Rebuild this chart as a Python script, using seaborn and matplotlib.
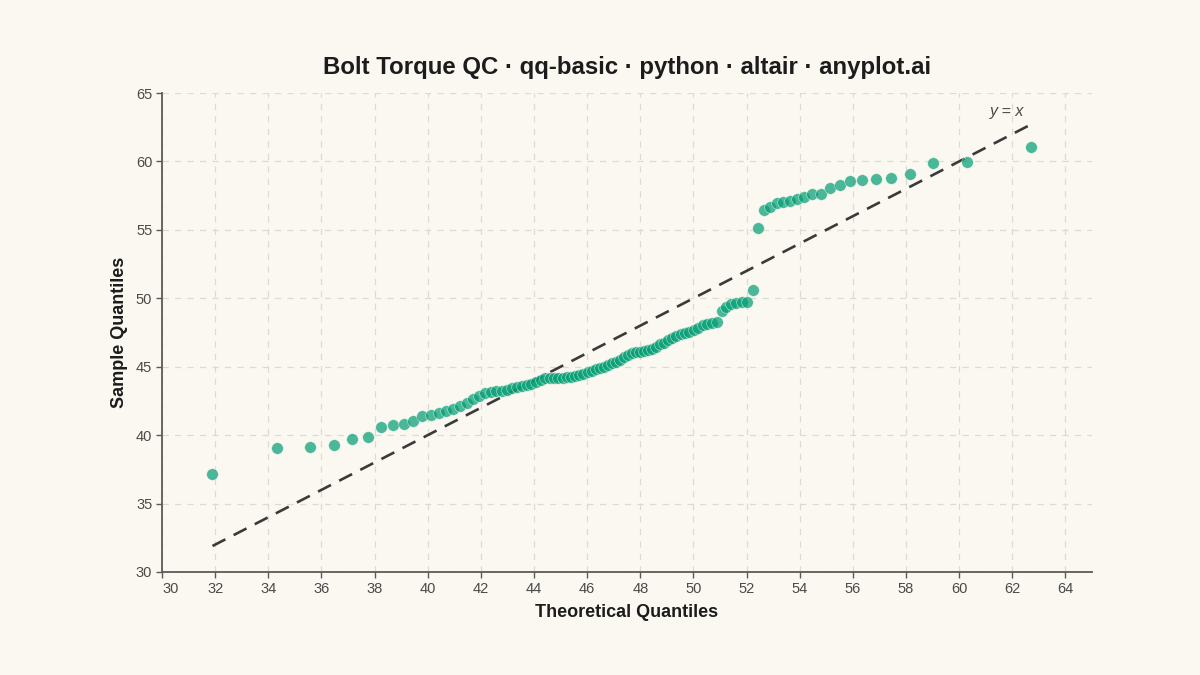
import matplotlib
matplotlib.use("Agg")
import matplotlib.pyplot as plt
import pandas as pd
import seaborn as sns

# Q-Q data: theoretical vs sample quantiles (n = 100)
theoretical = [
    31.90, 34.32, 35.58, 36.46, 37.16, 37.74, 38.25, 38.69, 39.09, 39.46,
    39.80, 40.12, 40.42, 40.70, 40.97, 41.23, 41.47, 41.71, 41.94, 42.16,
    42.37, 42.58, 42.78, 42.98, 43.17, 43.36, 43.54, 43.72, 43.90, 44.08,
    44.25, 44.42, 44.59, 44.75, 44.91, 45.08, 45.24, 45.39, 45.55, 45.71,
    45.86, 46.02, 46.17, 46.32, 46.47, 46.62, 46.78, 46.93, 47.08, 47.23,
    47.37, 47.52, 47.67, 47.82, 47.98, 48.13, 48.28, 48.43, 48.58, 48.74,
    48.89, 49.05, 49.21, 49.36, 49.52, 49.69, 49.85, 50.01, 50.18, 50.35,
    50.52, 50.70, 50.88, 51.06, 51.24, 51.43, 51.62, 51.82, 52.02, 52.23,
    52.44, 52.66, 52.89, 53.13, 53.37, 53.63, 53.90, 54.18, 54.48, 54.80,
    55.14, 55.51, 55.91, 56.35, 56.86, 57.44, 58.14, 59.02, 60.28, 62.70,
]
sample = [
    37.16, 39.06, 39.13, 39.28, 39.72, 39.86, 40.57, 40.76, 40.81, 41.03,
    41.40, 41.50, 41.60, 41.78, 41.91, 42.13, 42.36, 42.65, 42.86, 43.08,
    43.16, 43.22, 43.25, 43.31, 43.42, 43.54, 43.61, 43.66, 43.74, 43.88,
    44.05, 44.15, 44.15, 44.16, 44.17, 44.20, 44.22, 44.26, 44.31, 44.38,
    44.46, 44.60, 44.69, 44.80, 44.90, 44.97, 45.10, 45.24, 45.37, 45.52,
    45.68, 45.85, 45.98, 46.05, 46.08, 46.12, 46.20, 46.28, 46.45, 46.64,
    46.76, 46.95, 47.12, 47.26, 47.40, 47.48, 47.57, 47.66, 47.86, 48.03,
    48.09, 48.17, 48.24, 49.10, 49.40, 49.58, 49.65, 49.71, 49.75, 50.60,
    55.14, 56.43, 56.65, 56.99, 57.04, 57.11, 57.28, 57.40, 57.60, 57.60,
    58.06, 58.26, 58.60, 58.67, 58.72, 58.79, 59.10, 59.91, 59.98, 61.03,
]
x_ticks = list(range(30, 65, 2))
y_ticks = list(range(30, 66, 5))

title = "Bolt Torque QC · qq-basic · python · altair · anyplot.ai"
bg = "#FAF8F1"
point_color = "#009E73"
ink = "#1C1C1C"
muted = "#4A4A4A"

sns.set_theme(style="white")
plt.rcParams["font.family"] = ["Liberation Sans", "DejaVu Sans"]

df = pd.DataFrame({"theoretical": theoretical, "sample": sample})

fig = plt.figure(figsize=(12, 6.75), dpi=100, facecolor=bg)
ax = fig.add_axes([0.135, 0.1526, 0.775, 0.7096])
ax.set_facecolor(bg)

# reference line y = x across the theoretical range
lo, hi = min(theoretical), max(theoretical)
ax.plot([lo, hi], [lo, hi], color="#3A3A3A", lw=1.9, ls=(0, (5.5, 3.5)), zorder=2)
ax.annotate("y = x", xy=(hi, hi), xytext=(-17, 4), textcoords="offset points",
            ha="center", va="bottom", fontsize=11.5, style="italic", color=muted)

sns.scatterplot(data=df, x="theoretical", y="sample", ax=ax, s=70,
                color=point_color, alpha=0.7, edgecolor=bg, linewidth=0.4, zorder=3)

ax.set_xlim(30, 65)
ax.set_ylim(30, 65)
ax.set_xticks(x_ticks)
ax.set_yticks(y_ticks)
ax.grid(True, color="#DEDAD2", lw=0.9, ls=(0, (5, 5)))
ax.set_axisbelow(True)

for side in ["top", "right"]:
    ax.spines[side].set_visible(False)
for side in ["left", "bottom"]:
    ax.spines[side].set_color("#5A5A5A")
    ax.spines[side].set_linewidth(1.3)

ax.tick_params(axis="both", which="major", length=4, width=1, color="#5A5A5A",
               labelsize=10.5, labelcolor=muted, pad=3, left=True, bottom=True)
# first x label sits flush with the axis start
ax.get_xticklabels()[0].set_horizontalalignment("left")

ax.set_xlabel("Theoretical Quantiles", fontsize=13, fontweight="bold", color=ink, labelpad=6)
ax.set_ylabel("Sample Quantiles", fontsize=13, fontweight="bold", color=ink, labelpad=6)
ax.set_title(title, fontsize=17.3, fontweight="bold", color=ink, pad=14)

fig.savefig("out.png", dpi=100, facecolor=bg)
